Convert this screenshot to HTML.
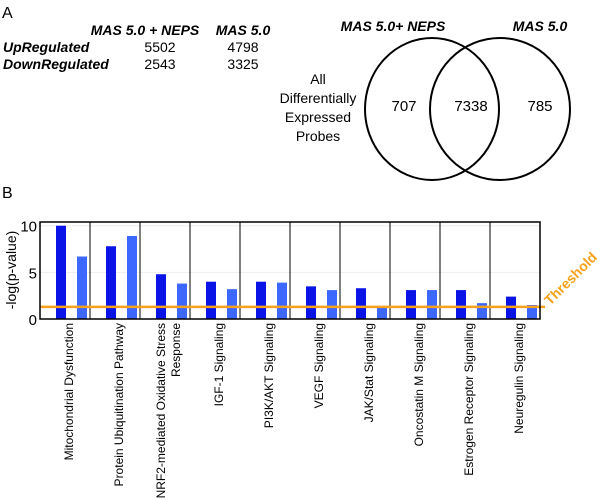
<!DOCTYPE html>
<html><head><meta charset="utf-8"><style>
body{margin:0;background:#fff;}
svg{display:block;font-family:"Liberation Sans",sans-serif;}
</style></head><body>
<svg width="600" height="500" viewBox="0 0 600 500">
<text x="2" y="18" font-size="16">A</text>
<g font-size="14">
<text x="145" y="35" text-anchor="middle" font-weight="bold" font-style="italic">MAS 5.0 + NEPS</text>
<text x="243" y="35" text-anchor="middle" font-weight="bold" font-style="italic">MAS 5.0</text>
<text x="3" y="52" font-weight="bold" font-style="italic">UpRegulated</text>
<text x="3" y="69" font-weight="bold" font-style="italic">DownRegulated</text>
<text x="160" y="52" text-anchor="middle">5502</text>
<text x="243" y="52" text-anchor="middle">4798</text>
<text x="160" y="69" text-anchor="middle">2543</text>
<text x="243" y="69" text-anchor="middle">3325</text>
</g>
<g>
<text x="393" y="31" text-anchor="middle" font-size="14" font-weight="bold" font-style="italic">MAS 5.0+ NEPS</text>
<text x="540" y="31" text-anchor="middle" font-size="14" font-weight="bold" font-style="italic">MAS 5.0</text>
<ellipse cx="432" cy="109" rx="67" ry="71" fill="none" stroke="#000" stroke-width="2"/>
<ellipse cx="500" cy="109" rx="70" ry="71" fill="none" stroke="#000" stroke-width="2"/>
<text x="404" y="111" text-anchor="middle" font-size="15">707</text>
<text x="471" y="111" text-anchor="middle" font-size="15">7338</text>
<text x="540" y="111" text-anchor="middle" font-size="15">785</text>
<g font-size="14" text-anchor="middle">
<text x="318" y="84">All</text>
<text x="318" y="103">Differentially</text>
<text x="318" y="122">Expressed</text>
<text x="318" y="141">Probes</text>
</g>
</g>
<text x="2" y="198" font-size="16">B</text>
<g id="chart"></g>
</svg>
<script>
const categories=["Mitochondrial Dysfunction","Protein Ubiquitination Pathway","NRF2-mediated Oxidative Stress|Response","IGF-1 Signaling","PI3K/AKT Signaling","VEGF Signaling","JAK/Stat Signaling","Oncostatin M Signaling","Estrogen Receptor Signaling","Neuregulin Signaling"];
const seriesNeps=[10,7.8,4.8,4.0,4.0,3.5,3.3,3.1,3.1,2.4];
const seriesMas=[6.7,8.9,3.8,3.2,3.9,3.1,1.2,3.1,1.7,1.5];
const yTicks=[0,5,10];
const threshold=1.3;
const NS="http://www.w3.org/2000/svg";
const g=document.getElementById('chart');
const L=40,R=540,T=222,B=319,yMax=10.4;
const bw=(R-L)/categories.length;
const y=v=>B-(v/yMax)*(B-T);
const x=i=>L+i*bw;
function mk(tag,a,txt){const e=document.createElementNS(NS,tag);for(const k in a)e.setAttribute(k,a[k]);if(txt!=null)e.textContent=txt;g.appendChild(e);return e;}
yTicks.forEach(t=>{
 if(t>0){const gl=mk('line',{x1:L,x2:R,y1:y(t),y2:y(t),stroke:'#eee','stroke-width':1});
 
 }
 const tl=mk('text',{x:L-3,y:y(t)+6,'text-anchor':'end','font-size':15},t);
 
 
});
categories.forEach((c,i)=>{
 const b1=mk('rect',{x:x(i)+16,y:y(seriesNeps[i]),width:10,height:B-y(seriesNeps[i]),fill:'#0a14e6'});
 
 
 const b2=mk('rect',{x:x(i)+37,y:y(seriesMas[i]),width:10,height:B-y(seriesMas[i]),fill:'#3d68ff'});
 
 
 if(i>0){const s=mk('line',{x1:x(i),x2:x(i),y1:T,y2:B,stroke:'#000','stroke-width':1});
 
 }
 const lines=c.split('|');const cx=x(i)+bw/2;
 lines.forEach((ln,j)=>{
  const lx=lines.length>1?cx+j*15:cx+8;
  const t=mk('text',{x:lx,y:323,'text-anchor':'end','font-size':12,transform:`rotate(-90 ${lx} 323)`},ln);
  
  
 });
});
const th=mk('line',{x1:L,x2:R+5,y1:y(threshold),y2:y(threshold),stroke:'#f7a11a','stroke-width':2.5});


const bx=mk('rect',{x:L,y:T,width:R-L,height:B-T,fill:'none',stroke:'#000','stroke-width':1.5});


const tt=mk('text',{x:574,y:282,'text-anchor':'middle','font-size':14,'font-weight':'bold',fill:'#f7a11a',transform:'rotate(-45 574 282)'},'Threshold');


const yt=mk('text',{x:16,y:270,'text-anchor':'middle','font-size':14,transform:'rotate(-90 16 270)'},'-log(p-value)');


</script>
</body></html>
